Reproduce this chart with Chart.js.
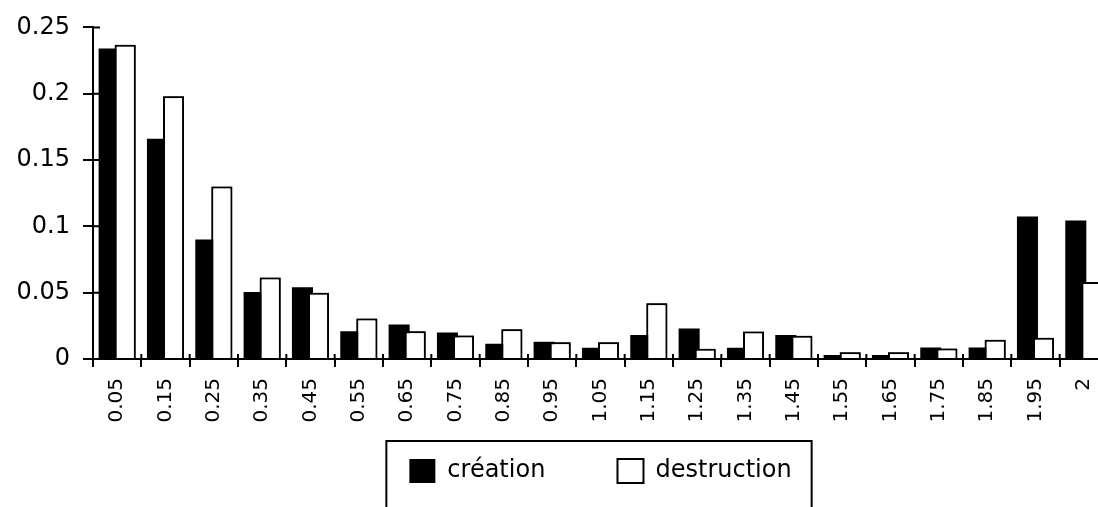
<!DOCTYPE html>
<html>
<head>
<meta charset="utf-8">
<script src="https://cdn.jsdelivr.net/npm/chart.js@4/dist/chart.umd.min.js"></script>
<style>
  html, body { margin: 0; padding: 0; background: #fff; overflow: hidden; }
  #wrap { width: 1110px; height: 507px; }
</style>
</head>
<body>
<div id="wrap"><canvas id="histo" width="1110" height="507"></canvas></div>
<script>
// categories (bin centres)
const bins = ['0.05', '0.15', '0.25', '0.35', '0.45', '0.55', '0.65', '0.75', '0.85', '0.95',
  '1.05', '1.15', '1.25', '1.35', '1.45', '1.55', '1.65', '1.75', '1.85', '1.95', '2'];

// series
const creation = [0.234, 0.166, 0.090, 0.0505, 0.054, 0.021, 0.026, 0.020, 0.0115, 0.013,
  0.0085, 0.018, 0.023, 0.0085, 0.018, 0.003, 0.003, 0.0087, 0.0087, 0.1075, 0.1045];
const destruction = [0.237, 0.198, 0.130, 0.0615, 0.050, 0.0305, 0.021, 0.0177, 0.0225, 0.0127,
  0.0127, 0.042, 0.0077, 0.0207, 0.0175, 0.005, 0.005, 0.008, 0.0145, 0.016, 0.058];

const yTicks = [0, 0.05, 0.1, 0.15, 0.2, 0.25];

const FONT = 'DejaVu Sans';
Chart.defaults.color = '#000';
Chart.defaults.font.family = FONT;

// white bars sit on top of the black ones, and axis ticks cross the axis
const overlay = {
  id: 'overlay',
  afterDatasetsDraw(chart) {
    chart.getDatasetMeta(1).controller.draw();
  },
  afterDraw(chart) {
    const { ctx, scales: { x, y } } = chart;
    ctx.save();
    ctx.strokeStyle = '#000';
    ctx.lineWidth = 2;
    ctx.beginPath();
    y.ticks.forEach((t, i) => {
      const py = y.getPixelForTick(i);
      ctx.moveTo(y.right, py);
      ctx.lineTo(y.right + 7, py);
    });
    const half = (x.getPixelForValue(1) - x.getPixelForValue(0)) / 2;
    for (let i = 0; i <= bins.length; i++) {
      const px = x.getPixelForValue(i) - half;
      ctx.moveTo(px, x.top);
      ctx.lineTo(px, x.top - 5);
    }
    ctx.stroke();

    // frame round the legend
    const boxes = chart.legend.legendHitBoxes;
    const first = boxes[0], last = boxes[boxes.length - 1];
    ctx.strokeRect(first.left - 23, first.top - 18,
      last.left + last.width + 20 - (first.left - 23), chart.height);
    ctx.restore();
  }
};

new Chart(document.getElementById('histo'), {
  type: 'bar',
  data: {
    labels: bins,
    datasets: [
      {
        label: 'création',
        data: creation,
        backgroundColor: '#000',
        borderWidth: 0
      },
      {
        label: 'destruction',
        data: destruction,
        backgroundColor: '#fff',
        borderColor: '#000',
        borderWidth: 2
      }
    ]
  },
  options: {
    responsive: false,
    animation: false,
    categoryPercentage: 0.665,
    barPercentage: 1.31,
    layout: { padding: { top: 26, right: 2, bottom: 14, left: 0 } },
    plugins: {
      tooltip: { enabled: false },
      legend: {
        position: 'bottom',
        fullSize: false,
        labels: {
          font: { family: FONT, size: 24 },
          boxWidth: 26,
          boxHeight: 24,
          padding: 34,
          generateLabels(chart) {
            // trailing spaces widen the gap between the two entries
            return Chart.defaults.plugins.legend.labels.generateLabels(chart)
              .map((item, i) => i === 0 ? { ...item, text: item.text + '     ' } : item);
          }
        }
      }
    },
    scales: {
      x: {
        grid: { drawOnChartArea: false, color: '#000', lineWidth: 2, tickLength: 8 },
        border: { color: '#000', width: 2 },
        ticks: {
          autoSkip: false,
          minRotation: 90,
          maxRotation: 90,
          padding: 11,
          font: { family: FONT, size: 20 }
        },
        afterFit(scale) {
          scale.height = 66;
          // the plot runs off the right edge in the original
          scale.paddingLeft = 0;
          scale.paddingRight = 0;
        }
      },
      y: {
        min: 0,
        max: 0.25,
        grid: { drawOnChartArea: false, color: '#000', lineWidth: 2, tickLength: 10 },
        border: { color: '#000', width: 2 },
        afterBuildTicks(scale) { scale.ticks = yTicks.map(v => ({ value: v })); },
        ticks: {
          padding: 13,
          font: { family: FONT, size: 24 },
          callback: v => String(+v.toFixed(2))
        },
        afterFit(scale) { scale.width = 93; }
      }
    }
  },
  plugins: [overlay]
});
</script>
</body>
</html>
